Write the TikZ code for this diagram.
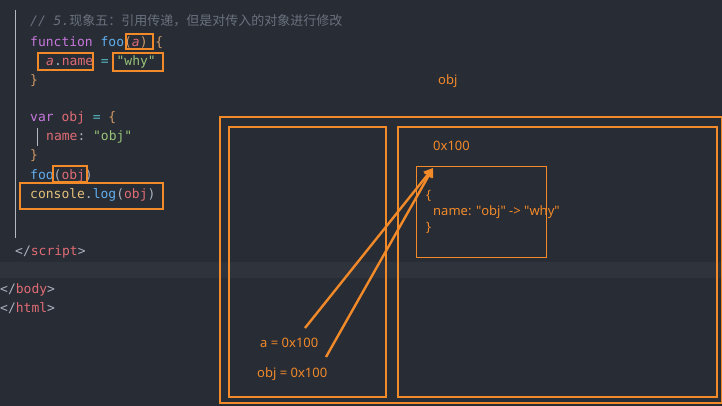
\documentclass[tikz,border=0pt]{standalone}
\usepackage{fontspec}
\setmonofont{DejaVu Sans Mono}
\setsansfont{Noto Sans}
\newfontfamily\cjk{Noto Sans CJK SC}
\usetikzlibrary{arrows.meta}
\definecolor{bg}{HTML}{282C34}
\definecolor{hl}{HTML}{2F333B}
\definecolor{cm}{HTML}{6A717E}
\definecolor{kw}{HTML}{C678DD}
\definecolor{fn}{HTML}{61AFEF}
\definecolor{vr}{HTML}{E06C75}
\definecolor{br}{HTML}{D19A66}
\definecolor{st}{HTML}{98C379}
\definecolor{op}{HTML}{56B6C2}
\definecolor{yl}{HTML}{E5C07B}
\definecolor{tx}{HTML}{ABB2BF}
\definecolor{org}{HTML}{F28A2A}
\begin{document}
\begin{tikzpicture}[x=1pt,y=-1pt,
  code/.style={anchor=base west,inner sep=0pt,font=\fontsize{13}{15}\ttfamily},
  lbl/.style={anchor=base west,inner sep=0pt,font=\fontsize{13}{15}\sffamily,text=org},
  hbox/.style={draw=org,line width=1.2pt},
  arr/.style={draw=org,line width=2.4pt,-{Triangle[length=9pt,width=10pt]}}]
\fill[bg] (0,0) rectangle (722,406);
\useasboundingbox (0,0) rectangle (722,406);
\fill[hl] (0,262) rectangle (722,278);
\draw[cm!50,line width=0.6pt] (15,10) -- (15,238);
\draw[cm!50,line width=0.6pt] (37,128) -- (37,146);
\node[code,text=cm] (c1) at (30,26) {\itshape // 5.{\cjk 现象五：引用传递，但是对传入的对象进行修改}};
\node[code] (c2) at (30,47) {\textcolor{kw}{function} \textcolor{fn}{foo}\textcolor{br}{(}\textcolor{vr}{\itshape a}\textcolor{br}{)} \textcolor{br}{\{}};
\node[code] (c3) at (46,66) {\textcolor{vr}{\itshape a}\textcolor{tx}{.}\textcolor{vr}{name} \textcolor{op}{=} \textcolor{st}{"why"}};
\node[code,text=br] (c4) at (30,85) {\}};
\node[code] (c5) at (30,122) {\textcolor{kw}{var} \textcolor{vr}{obj} \textcolor{op}{=} \textcolor{br}{\{}};
\node[code] (c6) at (46,141) {\textcolor{vr}{name}\textcolor{tx}{:} \textcolor{st}{"obj"}};
\node[code,text=br] (c7) at (30,160) {\}};
\node[code] (c8) at (30,179) {\textcolor{fn}{foo}\textcolor{tx}{(}\textcolor{vr}{obj}\textcolor{tx}{)}};
\node[code] (c9) at (30,198) {\textcolor{yl}{console}\textcolor{tx}{.}\textcolor{fn}{log}\textcolor{tx}{(}\textcolor{vr}{obj}\textcolor{tx}{)}};
\node[code] (c10) at (15,255) {\textcolor{tx}{</}\textcolor{vr}{script}\textcolor{tx}{>}};
\node[code] (c11) at (0,293) {\textcolor{tx}{</}\textcolor{vr}{body}\textcolor{tx}{>}};
\node[code] (c12) at (0,312) {\textcolor{tx}{</}\textcolor{vr}{html}\textcolor{tx}{>}};
% highlight boxes
\draw[hbox] (126,34) rectangle (153,49);
\draw[hbox] (38,53) rectangle (93,70);
\draw[hbox] (113,53) rectangle (163,71);
\draw[hbox] (53,166) rectangle (87,182);
\draw[hbox] (20,183) rectangle (163,209);
% memory diagram
\draw[hbox] (220,117) rectangle (722,403);
\draw[hbox] (229,127) rectangle (386,397);
\draw[hbox] (398,127) rectangle (717,397);
\node[draw=org,line width=1.2pt,minimum width=130pt,minimum height=91pt,anchor=north west,inner sep=0pt] (ob) at (416,166) {};
\node[lbl] (tobj) at (438,85) {obj};
\node[lbl] (addr) at (433,151) {0x100};
\node[lbl] (l1) at (426,199) {\{};
\node[lbl] (l2) at (433,215) {name: \textquotedbl obj\textquotedbl\ -> \textquotedbl why\textquotedbl};
\node[lbl] (l3) at (426,231) {\}};
\node[lbl] (va) at (260,347) {a = 0x100};
\node[lbl] (vo) at (257,377) {obj = 0x100};
\coordinate (tip) at (433,168);
\draw[arr] (305,328) -- (tip);
\draw[arr] (326,357) -- (tip);
\end{tikzpicture}
\end{document}
